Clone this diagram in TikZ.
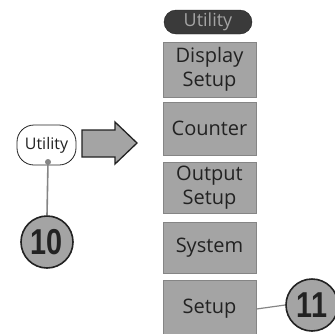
\documentclass[tikz,border=0pt]{standalone}
\usepackage{fontspec}
\setmainfont{Open Sans}
\newfontfamily\numfont{Liberation Sans}
\definecolor{boxgray}{HTML}{A4A4A4}
\definecolor{edgegray}{HTML}{858585}
\definecolor{ink}{HTML}{222222}
\definecolor{pill}{HTML}{3A3A3A}
\begin{document}
\begin{tikzpicture}[x=1pt,y=-1pt,
  menubox/.style={draw=edgegray,line width=1pt,fill=boxgray,minimum width=93pt,text=ink,
    font=\fontsize{20}{24}\selectfont,align=center,inner sep=0pt},
  callout/.style={circle,draw=ink,line width=1.6pt,fill=boxgray,minimum size=52pt,inner sep=0pt,
    text=ink,font=\numfont\bfseries\fontsize{36}{36}\selectfont},
  lead/.style={draw=edgegray,line width=1.6pt}]
\useasboundingbox (0,0) rectangle (335,333);
\node[draw=ink,fill=pill,rounded corners=12pt,minimum width=88pt,minimum height=24pt,inner sep=0pt,
  text=boxgray,font=\fontsize{18}{18}\selectfont] (top) at (208,22) {Utility};
\node[menubox,minimum height=55pt] (disp) at (209.5,69.5) {Display\\Setup};
\node[menubox,minimum height=53pt] (cnt) at (209.5,128.5) {Counter};
\node[menubox,minimum height=51pt] (out) at (209.5,187.5) {Output\\Setup};
\node[menubox,minimum height=51pt] (sys) at (209.5,247.5) {System};
\node[menubox,minimum height=58pt] (set) at (209.5,309) {Setup};
\node[draw=ink,line width=0.8pt,fill=white,rounded corners=17pt,minimum width=59pt,minimum height=40pt,
  inner sep=0pt,text=ink,font=\fontsize{16}{16}\selectfont] (util) at (46.5,145) {Utility};
\filldraw[draw=ink,fill=boxgray,line width=1.3pt]
  (82,130) -- (115,130) -- (115,122) -- (137,143) -- (115,164) -- (115,157) -- (82,157) -- cycle;
\node[callout] (c10) at (47,242) {\scalebox{0.8}[1]{10}};
\node[callout] (c11) at (312,305) {\scalebox{0.8}[1]{11}};
\coordinate (dot) at (48,162);
\draw[lead] (dot) -- (c10.north);
\fill[edgegray] (dot) circle (3pt);
\draw[lead,line width=1.2pt] (set.east) -- (c11.west);
\end{tikzpicture}
\end{document}
